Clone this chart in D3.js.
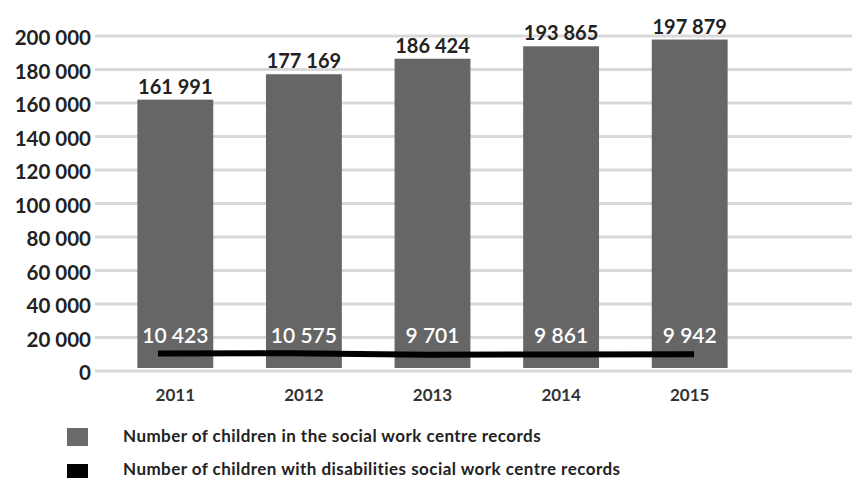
<!DOCTYPE html>
<html>
<head>
<meta charset="utf-8">
<script src="https://cdn.jsdelivr.net/npm/d3@7"></script>
<style>
  body { margin: 0; background: #fff; }
  svg { display: block; font-family: Lato, "Open Sans", sans-serif; }
</style>
</head>
<body>
<div id="chart"></div>
<script>
// Children in social work centre records, 2011-2015

const years = ['2011', '2012', '2013', '2014', '2015'];
const childrenTotal = [161991, 177169, 186424, 193865, 197879];
const childrenDisabled = [10423, 10575, 9701, 9861, 9942];
const yTicks = [0, 20000, 40000, 60000, 80000, 100000, 120000, 140000, 160000, 180000, 200000];
const legendLabels = [
    'Number of children in the social work centre records',
    'Number of children with disabilities social work centre records'
];

const BAR_COLOR = '#666666';
const LINE_COLOR = '#000000';
const GRID_COLOR = '#d9d9d9';

const width = 854;
const height = 478;

const fmt = v => d3.format(',')(v).replace(/,/g, ' ');

const svg = d3.select('#chart')
    .append('svg')
    .attr('width', width)
    .attr('height', height);

const x = d3.scaleBand()
    .domain(years)
    .range([111, 754])
    .paddingInner(0.41)
    .paddingOuter(0.205);

const y = d3.scaleLinear()
    .domain([0, 200000])
    .range([371, 36]);

// Gridlines
svg.append('g')
    .selectAll('line')
    .data(yTicks)
    .join('line')
    .attr('x1', 95)
    .attr('x2', 852)
    .attr('y1', d => y(d))
    .attr('y2', d => y(d))
    .attr('stroke', GRID_COLOR)
    .attr('stroke-width', 3);

// Y axis labels
const yAxis = svg.append('g')
    .attr('transform', 'translate(91,2)')
    .call(d3.axisLeft(y).tickValues(yTicks).tickFormat(fmt).tickSize(0).tickPadding(0));
yAxis.select('.domain').remove();
yAxis.selectAll('text')
    .attr('font-family', 'Lato, sans-serif')
    .attr('font-size', '20.5px')
    .attr('font-weight', 700)
    .attr('fill', '#222');

// X axis labels
const xAxis = svg.append('g')
    .attr('transform', `translate(0,${y(0) + 18})`)
    .call(d3.axisBottom(x).tickSize(0).tickPadding(0));
xAxis.select('.domain').remove();
xAxis.selectAll('text')
    .attr('font-family', 'Lato, sans-serif')
    .attr('font-size', '17px')
    .attr('font-weight', 700)
    .attr('fill', '#333');

// Bars
svg.append('g')
    .selectAll('rect')
    .data(years)
    .join('rect')
    .attr('x', d => x(d))
    .attr('width', x.bandwidth())
    .attr('y', (d, i) => y(childrenTotal[i]))
    .attr('height', (d, i) => y(0) - 3 - y(childrenTotal[i]))
    .attr('fill', BAR_COLOR);

// Bar value labels
svg.append('g')
    .selectAll('text')
    .data(years)
    .join('text')
    .attr('x', d => x(d) + x.bandwidth() / 2)
    .attr('y', (d, i) => y(childrenTotal[i]) - 6)
    .attr('text-anchor', 'middle')
    .attr('font-size', '20px')
    .attr('font-weight', 700)
    .attr('fill', '#222')
    .text((d, i) => fmt(childrenTotal[i]));

// Disabilities line
const xLine = d3.scalePoint()
    .domain(years)
    .range([158, 694]);

svg.append('path')
    .datum(childrenDisabled)
    .attr('fill', 'none')
    .attr('stroke', LINE_COLOR)
    .attr('stroke-width', 6)
    .attr('d', d3.line()
        .x((d, i) => xLine(years[i]))
        .y(d => y(d)));

// Disabilities value labels
svg.append('g')
    .selectAll('text')
    .data(years)
    .join('text')
    .attr('x', d => x(d) + x.bandwidth() / 2)
    .attr('y', y(20000) + 5)
    .attr('text-anchor', 'middle')
    .attr('font-size', '21px')
    .attr('font-weight', 600)
    .attr('fill', '#fff')
    .text((d, i) => fmt(childrenDisabled[i]));

// Legend
const legend = svg.append('g')
    .selectAll('g')
    .data(legendLabels)
    .join('g')
    .attr('transform', (d, i) => `translate(67,${428 + i * 36})`);

legend.append('rect')
    .attr('width', 21)
    .attr('height', 18)
    .attr('fill', (d, i) => i === 0 ? '#6a6a6a' : '#000');

legend.append('text')
    .attr('x', 56)
    .attr('y', (d, i) => i === 0 ? 14 : 11)
    .attr('font-size', '17px')
    .attr('font-weight', 700)
    .attr('letter-spacing', '0.45px')
    .attr('fill', '#222')
    .text(d => d);
</script>
</body>
</html>
